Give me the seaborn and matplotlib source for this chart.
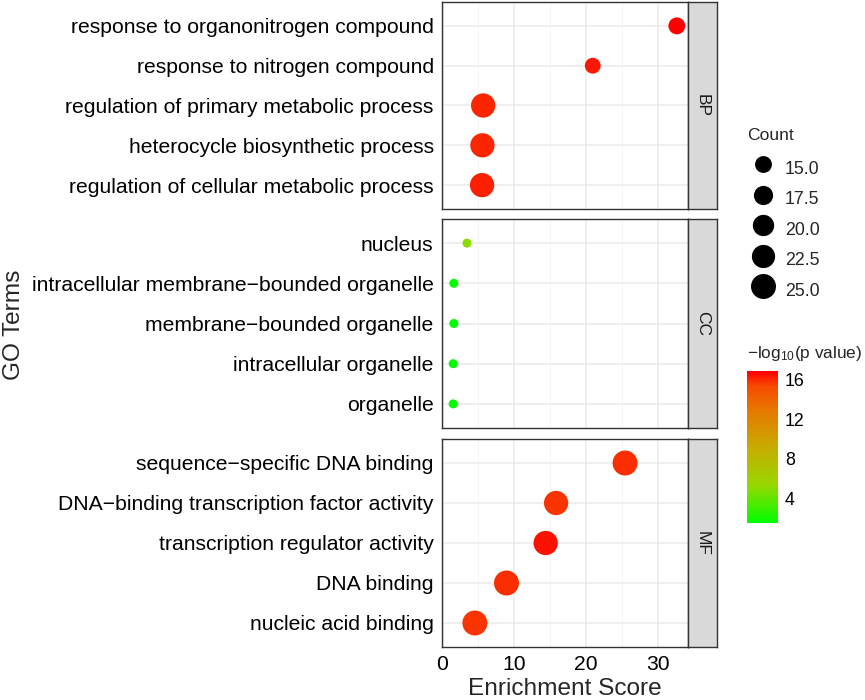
import numpy as np
import pandas as pd
import matplotlib
matplotlib.use("Agg")
import matplotlib.pyplot as plt
import seaborn as sns
from matplotlib.colors import LinearSegmentedColormap, Normalize
from matplotlib.cm import ScalarMappable
from matplotlib.lines import Line2D
from matplotlib.ticker import MultipleLocator

# data
categories = ["BP"] * 5 + ["CC"] * 5 + ["MF"] * 5
terms = [
    "response to organonitrogen compound",
    "response to nitrogen compound",
    "regulation of primary metabolic process",
    "heterocycle biosynthetic process",
    "regulation of cellular metabolic process",
    "nucleus",
    "intracellular membrane\u2212bounded organelle",
    "membrane\u2212bounded organelle",
    "intracellular organelle",
    "organelle",
    "sequence\u2212specific DNA binding",
    "DNA\u2212binding transcription factor activity",
    "transcription regulator activity",
    "DNA binding",
    "nucleic acid binding",
]
enrichment = [32.6, 20.9, 5.65, 5.55, 5.5,
              3.4, 1.57, 1.57, 1.48, 1.48,
              25.4, 15.8, 14.35, 8.9, 4.5]
counts = [15, 14, 24, 24, 24,
          9, 9, 9, 9, 9,
          25, 24, 24, 25, 25]
neglog_p = [16.9, 16.4, 16.1, 16.1, 16.2,
            5.0, 1.6, 1.55, 1.5, 1.5,
            15.9, 15.8, 16.5, 15.9, 15.8]
count_breaks = [15.0, 17.5, 20.0, 22.5, 25.0]
color_ticks = [4, 8, 12, 16]

df = pd.DataFrame({"Category": categories, "Term": terms, "Enrichment": enrichment,
                   "Count": counts, "neglogp": neglog_p})

sns.set_style("white")
plt.rcParams["font.family"] = ["Liberation Sans", "DejaVu Sans"]
plt.rcParams["mathtext.default"] = "regular"

# green -> red, Lab-like interpolation (like ggplot scale_colour_gradient)
cmap = LinearSegmentedColormap.from_list(
    "gr", [(0.0, "#00FF00"), (0.25, "#98D700"), (0.5, "#C8AB00"),
           (0.75, "#E87600"), (0.9, "#F74A00"), (1.0, "#FF0000")])
cnorm = Normalize(vmin=min(neglog_p), vmax=max(neglog_p))
size_norm = (9, 26)
size_range = (42, 341)


def size_of(c):
    t = (c - size_norm[0]) / (size_norm[1] - size_norm[0])
    return size_range[0] + t * (size_range[1] - size_range[0])


W, H = 865, 700
fig = plt.figure(figsize=(W / 100, H / 100), dpi=100)

left, right = 442, 688
strip_w = 29
panels = {"BP": (2, 209), "CC": (219, 428), "MF": (439, 647)}

xr = max(enrichment) - min(enrichment)
xlim = (min(enrichment) - 0.05 * xr, max(enrichment) + 0.05 * xr)

for cat, (top, bot) in panels.items():
    ax = fig.add_axes([left / W, 1 - bot / H, (right - left) / W, (bot - top) / H])
    sub = df[df["Category"] == cat]
    sns.scatterplot(data=sub, x="Enrichment", y="Term", hue="neglogp", hue_norm=cnorm,
                    palette=cmap, size="Count", size_norm=size_norm, sizes=size_range,
                    linewidth=0, legend=False, ax=ax, zorder=3)
    ax.set_ylim(4.6, -0.6)
    ax.set_xlim(*xlim)
    ax.xaxis.set_major_locator(MultipleLocator(10))
    ax.xaxis.set_minor_locator(MultipleLocator(5))
    ax.grid(which="major", color="#EBEBEB", linewidth=1.1, zorder=0)
    ax.grid(which="minor", axis="x", color="#F2F2F2", linewidth=0.6, zorder=0)
    ax.set_axisbelow(True)
    for sp in ax.spines.values():
        sp.set_color("#333333")
        sp.set_linewidth(1.0)
    ax.tick_params(which="major", length=4, width=0.9, color="#333333",
                   labelsize=15.2, labelcolor="black", pad=2)
    ax.tick_params(which="minor", length=0)
    ax.set_xlabel("")
    ax.set_ylabel("")
    if cat != "MF":
        ax.tick_params(axis="x", labelbottom=False, length=0)

    sax = fig.add_axes([right / W, 1 - bot / H, strip_w / W, (bot - top) / H])
    sax.set_facecolor("#D9D9D9")
    sax.set_xticks([])
    sax.set_yticks([])
    for sp in sax.spines.values():
        sp.set_color("#333333")
        sp.set_linewidth(1.0)
    sax.text(0.5, 0.5, cat, rotation=-90, ha="center", va="center",
             fontsize=12.5, color="#1A1A1A", transform=sax.transAxes)

fig.text(14 / W, 1 - 325 / H, "GO Terms", rotation=90, ha="center", va="center",
         fontsize=17.6)
fig.text((left + right) / 2 / W, 1 - 689 / H, "Enrichment Score", ha="center",
         va="center", fontsize=17.6)

# size legend
handles = [Line2D([], [], marker="o", linestyle="", markerfacecolor="black",
                  markeredgewidth=0, markersize=np.sqrt(size_of(c)))
           for c in count_breaks]
fig.text(747 / W, 1 - 135 / H, "Count", ha="left", va="center", fontsize=12.6)
leg = fig.legend(handles, [f"{c:.1f}" for c in count_breaks],
                 loc="upper left", bbox_to_anchor=(745 / W, 1 - 155 / H),
                 frameon=False, fontsize=12.8, handleheight=1.86, handlelength=2.0,
                 labelspacing=0.26, handletextpad=0.25, borderpad=0,
                 borderaxespad=0)

# colour bar
cax = fig.add_axes([747 / W, 1 - 523 / H, 31 / W, 152 / H])
cb = fig.colorbar(ScalarMappable(norm=cnorm, cmap=cmap), cax=cax, ticks=color_ticks)
cb.outline.set_visible(False)
cax.tick_params(direction="in", color="white", length=6, width=0.8, left=True,
                right=True, labelsize=12.8, labelcolor="black", pad=5)
fig.text(747 / W, 1 - 353 / H, "\u2212log$_{10}$(p value)", ha="left", va="center",
         fontsize=12.4)

fig.savefig("out.png", dpi=100)
